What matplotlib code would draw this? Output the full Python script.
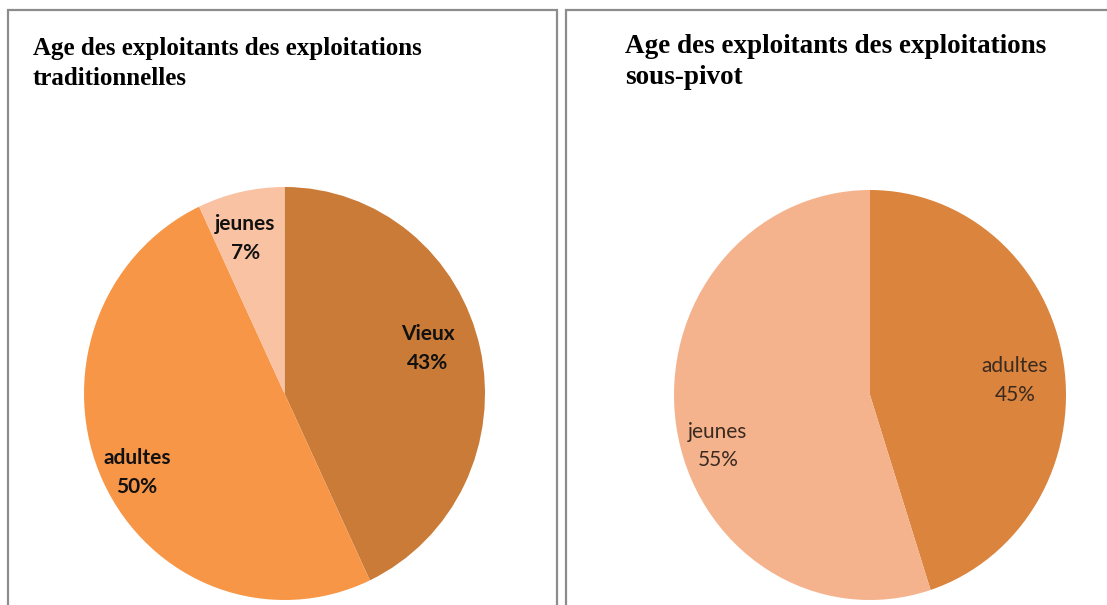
import matplotlib.pyplot as plt
from matplotlib.patches import Rectangle
import numpy as np

W, H = 1107, 605

titre_trad = ["Age des exploitants des exploitations", "traditionnelles"]
labels_trad = ['Vieux', 'adultes', 'jeunes']
valeurs_trad = [43, 50, 7]
couleurs_trad = ['#C97B37', '#F79646', '#F9C2A2']

titre_pivot = ["Age des exploitants des exploitations", "sous-pivot"]
labels_pivot = ['adultes', 'jeunes']
valeurs_pivot = [45, 55]
couleurs_pivot = ['#DB843D', '#F5B38D']

fig = plt.figure(figsize=(W / 100, H / 100), dpi=100)
fig.patch.set_facecolor('white')


def px_box(x0, y0, x1, y1):
    # pixel box (top-left origin) -> figure fraction rect
    return [x0 / W, 1 - y1 / H, (x1 - x0) / W, (y1 - y0) / H]


# panel frames
for x0, x1 in [(8, 557), (566, 1115)]:
    fig.add_artist(Rectangle((x0 / W, -0.05), (x1 - x0) / W, 1 - 10 / H + 0.05,
                             transform=fig.transFigure, facecolor='none',
                             edgecolor='#8C8C8C', linewidth=1.6))

# titles, one line at a time (baseline in pixels)
for lines, x, bases, size in [(titre_trad, 33, (55, 85), 18),
                              (titre_pivot, 625, (53, 84), 19.5)]:
    for txt, yb in zip(lines, bases):
        fig.text(x / W, 1 - yb / H, txt, fontfamily='Liberation Serif',
                 fontweight='bold', fontsize=size, va='baseline', ha='left')


def draw_pie(rect, vals, labs, cols, dists, shifts, weight, color):
    ax = fig.add_axes(rect)
    wedges, _ = ax.pie(vals, colors=cols, startangle=90, counterclock=False,
                       wedgeprops=dict(linewidth=0))
    ax.set_aspect('auto')
    ax.set_xlim(-1, 1)
    ax.set_ylim(-1, 1)
    for w, lab, v, d, s in zip(wedges, labs, vals, dists, shifts):
        ang = np.deg2rad((w.theta1 + w.theta2) / 2 + s)
        ax.text(d * np.cos(ang), d * np.sin(ang), f"{lab}\n{v}%", ha='center',
                va='center', fontfamily='Lato', fontsize=15, fontweight=weight,
                color=color, linespacing=1.55)
    return ax


draw_pie(px_box(84, 187, 485, 600), valeurs_trad, labels_trad, couleurs_trad,
         [0.746, 0.83, 0.776], [4.4, 2.2, 2.0], 'bold', '#111111')
draw_pie(px_box(674, 190, 1066, 600), valeurs_pivot, labels_pivot, couleurs_pivot,
         [0.743, 0.815], [-3.4, 8.8], 'normal', '#3a2a20')

fig.savefig('out.png', dpi=100)
